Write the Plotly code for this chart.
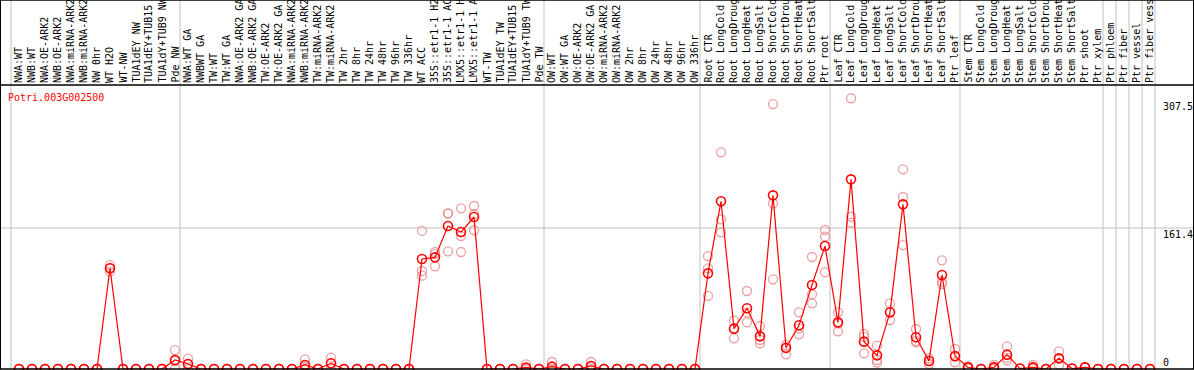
import plotly.graph_objects as go

gene_id = "Potri.003G002500"

categories = [
    "NWA:WT", "NWB:WT", "NWA:OE-ARK2", "NWB:OE-ARK2", "NWA:miRNA-ARK2", "NWB:miRNA-ARK2",
    "NW 0hr", "WT H2O", "WT-NW", "TUA1dEY NW", "TUA1dEY+TUB15", "TUA1dY+TUB9 NW", "Pde NW",
    "NWA:WT GA", "NWBWT GA", "TW:WT", "TW:WT GA", "NWA:OE-ARK2 GA", "NWB:OE-ARK2 GA",
    "TW:OE-ARK2", "TW:OE-ARK2 GA", "NWA:miRNA-ARK2", "NWB:miRNA-ARK2", "TW:miRNA-ARK2",
    "TW:miRNA-ARK2", "TW 2hr", "TW 8hr", "TW 24hr", "TW 48hr", "TW 96hr", "TW 336hr",
    "WT ACC", "35S::etr1-1 H2", "35S::etr1-1 AC", "LMX5::etr1-1 H", "LMX5::etr1-1 A",
    "WT-TW", "TUA1dEY TW", "TUA1dEY+TUB15", "TUA1dY+TUB9 TW", "Pde TW",
    "OW:WT", "OW:WT GA", "OW:OE-ARK2", "OW:OE-ARK2 GA", "OW:miRNA-ARK2", "OW:miRNA-ARK2",
    "OW 2hr", "OW 8hr", "OW 24hr", "OW 48hr", "OW 96hr", "OW 336hr",
    "Root CTR", "Root LongCold", "Root LongDroug", "Root LongHeat", "Root LongSalt",
    "Root ShortCold", "Root ShortDrou", "Root ShortHeat", "Root ShortSalt", "Ptr root",
    "Leaf CTR", "Leaf LongCold", "Leaf LongDroug", "Leaf LongHeat", "Leaf LongSalt",
    "Leaf ShortCold", "Leaf ShortDrou", "Leaf ShortHeat", "Leaf ShortSalt", "Ptr leaf",
    "Stem CTR", "Stem LongCold", "Stem LongDroug", "Stem LongHeat", "Stem LongSalt",
    "Stem ShortCold", "Stem ShortDrou", "Stem ShortHeat", "Stem ShortSalt", "Ptr shoot",
    "Ptr xylem", "Ptr phloem", "Ptr fiber", "Ptr vessel", "Ptr fiber vess",
]

mean_values = [
    0, 0, 0, 0, 0, 0,
    0, 115.3, 0, 0, 0, 0, 10.3,
    5.7, 0, 0, 0, 0, 0,
    0, 0, 0, 4.6, 0,
    6.5, 0, 0, 0, 0, 0, 0,
    125.9, 127.8, 163.7, 156.8, 174.0,
    0, 0, 0, 1.8, 0,
    2.7, 0, 0, 3.4, 0, 0,
    0, 0, 0, 0, 0, 0,
    109.5, 192.0, 46.2, 69.5, 37.4,
    198.8, 24.4, 50.0, 96.2, 140.8,
    53.4, 217.1, 31.3, 15.6, 64.9,
    188.5, 36.3, 9.2, 107.6, 14.9,
    1.9, 0, 1.9, 16.4, 0.5,
    1.9, 0, 12.2, 0.5, 1.9,
    0, 0, 0, 0, 0,
]

rep1_values = [
    0, 0, 0, 0, 0, 0,
    0, 119.0, 0, 0, 0, 0, 21.7,
    11.8, 0, 0, 0, 0, 0,
    0, 0, 0, 11.1, 0,
    13.0, 0, 0, 0, 0, 0, 0,
    158.0, 133.9, 178.2, 183.9, 186.6,
    0, 0, 0, 5.3, 0,
    8.0, 0, 0, 8.0, 0, 0,
    0, 0, 0, 0, 0, 0,
    129.3, 248.0, 55.3, 89.3, 49.2,
    303.3, 27.5, 64.9, 128.2, 159.1,
    64.9, 309.9, 40.1, 26.7, 75.2,
    228.6, 45.8, 12.2, 124.4, 22.9,
    3.0, 0, 4.6, 26.0, 0.5,
    4.6, 0, 20.2, 0.5, 1.9,
    0, 0, 0, 0, 0,
]

rep2_values = [
    0, 0, 0, 0, 0, 0,
    0, 115.5, 0, 0, 0, 0, 9.3,
    5.3, 0, 0, 0, 0, 0,
    0, 0, 0, 2.7, 0,
    6.5, 0, 0, 0, 0, 0, 0,
    112.2, 131.6, 178.2, 152.2, 177.4,
    0, 0, 0, 0, 0,
    0, 0, 0, 2.2, 0, 0,
    0, 0, 0, 0, 0, 0,
    115.2, 171.3, 46.6, 64.5, 33.2,
    189.7, 23.7, 46.6, 85.5, 151.5,
    52.0, 174.3, 37.0, 10.3, 64.9,
    196.9, 32.1, 9.5, 100.0, 14.0,
    2.0, 0, 1.0, 13.0, 0.5,
    1.0, 0, 12.2, 0.5, 1.9,
    0, 0, 0, 0, 0,
]

rep3_values = [
    0, 0, 0, 0, 0, 0,
    0, 111.5, 0, 0, 0, 0, 0,
    0, 0, 0, 0, 0, 0,
    0, 0, 0, 0, 0,
    0, 0, 0, 0, 0, 0, 0,
    106.8, 117.5, 134.7, 133.9, 158.8,
    0, 0, 0, 0, 0,
    0, 0, 0, 0, 0, 0,
    0, 0, 0, 0, 0, 0,
    83.6, 156.5, 35.1, 53.4, 29.4,
    102.7, 16.8, 39.7, 75.2, 110.7,
    43.2, 167.5, 18.0, 7.3, 56.1,
    141.9, 30.5, 5.7, 97.3, 7.7,
    0.5, 0, 0, 10.0, 0.5,
    0, 0, 4.2, 0.5, 1.9,
    0, 0, 0, 0, 0,
]

# indices where a new sample group begins (vertical separators)
group_starts = [0, 13, 41, 53, 63, 73, 84, 85, 86, 87, 88]

y_ticks = [0, 161.4, 307.5]
y_tick_labels = ["0", "161.4", "307.5"]

W, H = 1194, 370
TOP, BOT = 85, 1
PLOT_H = H - TOP - BOT
STEP = 13.0
X0 = -19.0 / STEP
X1 = X0 + W / STEP
Y_MAX = PLOT_H / 0.8736

xs = list(range(len(categories)))
mono = "DejaVu Sans Mono"

fig = go.Figure()

rep_color = "rgba(232,128,128,0.75)"
for reps in (rep1_values, rep2_values, rep3_values):
    fig.add_trace(go.Scatter(
        x=xs, y=reps, mode="markers", cliponaxis=False, hoverinfo="skip",
        marker=dict(symbol="circle-open", size=9, color=rep_color, line=dict(width=1.3)),
    ))

fig.add_trace(go.Scatter(
    x=xs, y=mean_values, mode="lines+markers", cliponaxis=False,
    line=dict(color="#ff0000", width=1.2),
    marker=dict(symbol="circle-open", size=9, color="#ff0000", line=dict(width=1.6)),
))

top_paper = 1 + TOP / PLOT_H
shapes = []
for k in group_starts:
    gx = k - 8.0 / STEP
    shapes.append(dict(type="line", xref="x", yref="paper", x0=gx, x1=gx, y0=0, y1=top_paper,
                       line=dict(color="#c0c0c0", width=1), layer="below"))
shapes.append(dict(type="line", xref="paper", yref="y", x0=0, x1=1, y0=y_ticks[1], y1=y_ticks[1],
                   line=dict(color="#c0c0c0", width=1), layer="below"))
for yy in (0, 1):
    shapes.append(dict(type="line", xref="paper", yref="paper", x0=0, x1=1, y0=yy, y1=yy,
                       line=dict(color="black", width=1.5)))
shapes.append(dict(type="line", xref="paper", yref="paper", x0=0, x1=1, y0=top_paper, y1=top_paper,
                   line=dict(color="black", width=1.5)))
for xx in (0, 1):
    shapes.append(dict(type="line", xref="paper", yref="paper", x0=xx, x1=xx, y0=0, y1=top_paper,
                       line=dict(color="black", width=2)))

annotations = []
for i, c in enumerate(categories):
    annotations.append(dict(
        x=i, xref="x", y=1 + 1.0 / PLOT_H, yref="paper", text=c, textangle=-90,
        xanchor="center", yanchor="bottom", showarrow=False,
        font=dict(family=mono, size=10, color="black"), borderpad=0,
    ))
annotations.append(dict(
    x=7.0 / W, xref="paper", y=(H - BOT - 97) / PLOT_H, yref="paper", text=gene_id,
    xanchor="left", yanchor="middle", showarrow=False,
    font=dict(family=mono, size=10, color="#ff0000"), borderpad=0,
))
for v, lab in zip(y_ticks, y_tick_labels):
    annotations.append(dict(
        x=1162.0 / W, xref="paper", y=v, yref="y", text=lab,
        xanchor="left", yanchor="bottom" if v == 0 else "top", showarrow=False,
        font=dict(family=mono, size=10, color="black"), borderpad=0,
    ))

fig.update_layout(
    width=W, height=H,
    margin=dict(l=0, r=0, t=TOP, b=BOT, pad=0),
    paper_bgcolor="white", plot_bgcolor="white",
    showlegend=False,
    xaxis=dict(range=[X0, X1], visible=False, fixedrange=True),
    yaxis=dict(range=[0, Y_MAX], visible=False, fixedrange=True),
    shapes=shapes, annotations=annotations,
)

fig.write_html(
    "out.html",
    config={"displayModeBar": False},
    post_script="document.body.style.margin='0';document.body.style.overflow='hidden';",
)
